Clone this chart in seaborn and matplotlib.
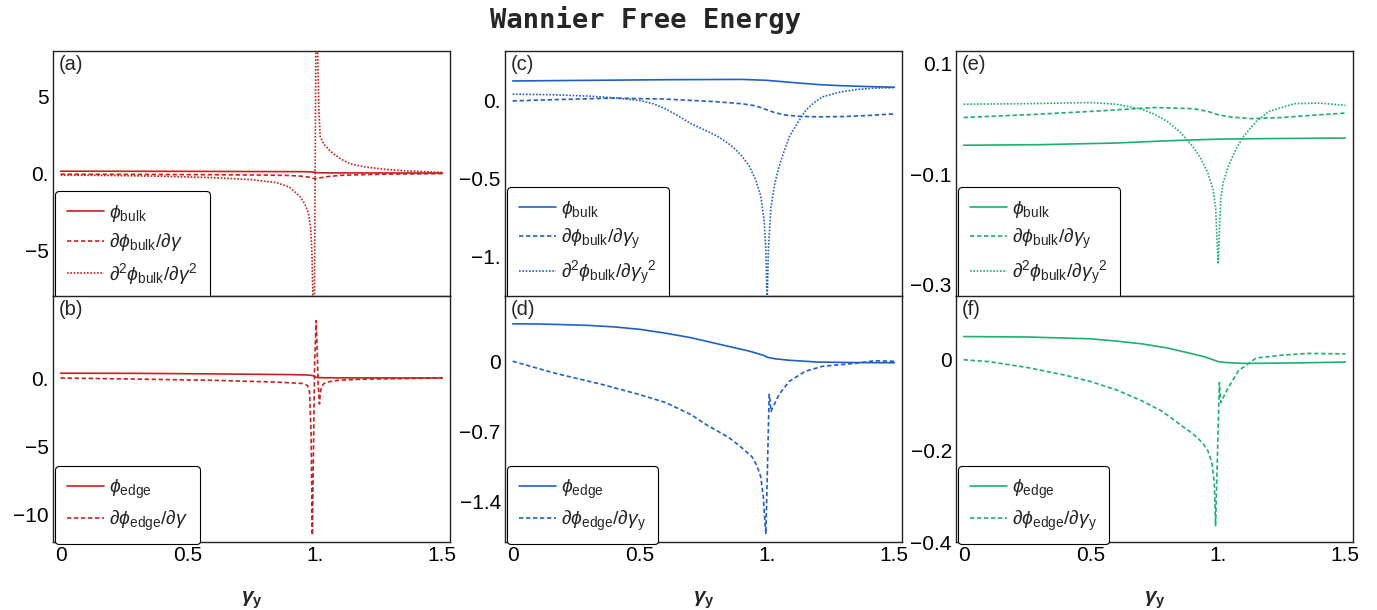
import matplotlib
matplotlib.use("Agg")
import matplotlib.pyplot as plt
import seaborn as sns

# ---- data ----
# (a) bulk, red
a_bulk_x = [0, 0.5, 0.95, 0.99, 1.01, 1.05, 1.5]
a_bulk_y = [0.15, 0.14, 0.12, 0.1, 0.05, 0.04, 0.03]
a_d1_x = [0, 0.3, 0.6, 0.8, 0.9, 0.95, 0.98, 1.0, 1.02, 1.05, 1.1, 1.2, 1.35, 1.5]
a_d1_y = [-0.05, -0.06, -0.08, -0.1, -0.13, -0.18, -0.25, -0.35, -0.28, -0.2, -0.12, -0.07, -0.03, -0.01]
a_d2_x = [0, 0.2, 0.4, 0.6, 0.75, 0.85, 0.9, 0.94, 0.96, 0.974, 0.982, 0.987, 0.992, 0.996,
          1.004, 1.009, 1.015, 1.02, 1.035, 1.06, 1.1, 1.14, 1.2, 1.27, 1.35, 1.5]
a_d2_y = [-0.1, -0.13, -0.18, -0.27, -0.4, -0.6, -0.9, -1.5, -2.0, -2.6, -3.5, -5.0, -8.5, -12,
          12, 8.5, 4.0, 2.4, 1.9, 1.45, 0.95, 0.62, 0.42, 0.28, 0.18, 0.07]

# (b) edge, red
b_edge_x = [0, 0.3, 0.6, 0.9, 0.97, 0.99, 1.0, 1.01, 1.03, 1.1, 1.5]
b_edge_y = [0.35, 0.34, 0.3, 0.25, 0.22, 0.18, 0.08, 0.03, 0.02, 0.01, 0.0]
b_d1_x = [0, 0.3, 0.6, 0.85, 0.95, 0.97, 0.978, 0.984, 0.989, 0.993, 0.998, 1.004, 1.008,
          1.012, 1.017, 1.021, 1.026, 1.035, 1.06, 1.1, 1.2, 1.35, 1.5]
b_d1_y = [0.0, -0.08, -0.17, -0.3, -0.4, -0.55, -1.0, -4.0, -11.5, -6.0, 1.0, 4.2, 2.0,
          -0.5, -1.9, -1.0, -0.6, -0.4, -0.25, -0.15, -0.08, -0.04, 0.0]

# (c) bulk, blue
c_bulk_x = [0, 0.3, 0.6, 0.9, 1.0, 1.1, 1.2, 1.3, 1.4, 1.5]
c_bulk_y = [0.128, 0.132, 0.136, 0.138, 0.132, 0.118, 0.105, 0.097, 0.092, 0.088]
c_d1_x = [0, 0.2, 0.4, 0.6, 0.8, 0.9, 0.95, 0.98, 1.0, 1.03, 1.07, 1.12, 1.2, 1.3, 1.4, 1.5]
c_d1_y = [0.0, 0.01, 0.018, 0.012, -0.005, -0.018, -0.03, -0.045, -0.058, -0.075, -0.09,
          -0.098, -0.102, -0.1, -0.093, -0.083]
c_d2_x = [0, 0.15, 0.3, 0.4, 0.5, 0.55, 0.6, 0.65, 0.7, 0.75, 0.8, 0.825, 0.85, 0.875, 0.9,
          0.93, 0.956, 0.975, 0.988, 0.995, 1.0, 1.005, 1.015, 1.03, 1.047, 1.065, 1.087,
          1.12, 1.152, 1.185, 1.218, 1.28, 1.35, 1.42, 1.5]
c_d2_y = [0.043, 0.04, 0.031, 0.02, 0.003, -0.017, -0.05, -0.095, -0.145, -0.183, -0.222,
          -0.248, -0.275, -0.31, -0.352, -0.418, -0.51, -0.61, -0.76, -0.95, -1.3, -0.95,
          -0.68, -0.53, -0.42, -0.33, -0.23, -0.14, -0.06, -0.01, 0.026, 0.055, 0.073,
          0.082, 0.085]

# (d) edge, blue
d_edge_x = [0, 0.1, 0.2, 0.3, 0.4, 0.5, 0.6, 0.7, 0.76, 0.82, 0.88, 0.92, 0.955, 0.99, 1.0,
            1.03, 1.087, 1.2, 1.35, 1.5]
d_edge_y = [0.373, 0.371, 0.365, 0.357, 0.342, 0.318, 0.28, 0.235, 0.2, 0.165, 0.13, 0.107,
            0.083, 0.055, 0.04, 0.025, 0.01, -0.008, -0.013, -0.015]
d_d1_x = [0, 0.168, 0.35, 0.496, 0.6, 0.7, 0.76, 0.85, 0.9, 0.94, 0.96, 0.975, 0.985, 0.99,
          0.995, 1.0, 1.008, 1.012, 1.015, 1.03, 1.047, 1.087, 1.15, 1.218, 1.35, 1.42, 1.5]
d_d1_y = [0.0, -0.12, -0.23, -0.33, -0.41, -0.53, -0.63, -0.76, -0.86, -0.95, -1.04, -1.15,
          -1.35, -1.55, -1.72, -1.2, -0.33, -0.4, -0.5, -0.42, -0.33, -0.2, -0.1, -0.05,
          -0.02, 0.005, 0.0]

# (e) bulk, green
e_bulk_x = [0, 0.3, 0.6, 0.8, 1.0, 1.2, 1.5]
e_bulk_y = [-0.048, -0.047, -0.044, -0.04, -0.037, -0.036, -0.035]
e_d1_x = [0, 0.25, 0.5, 0.75, 0.9, 0.96, 1.0, 1.05, 1.13, 1.25, 1.4, 1.5]
e_d1_y = [0.002, 0.007, 0.013, 0.02, 0.018, 0.013, 0.007, 0.003, 0.0, 0.002, 0.007, 0.01]
e_d2_x = [0, 0.25, 0.5, 0.6, 0.7, 0.75, 0.8, 0.85, 0.9, 0.93, 0.96, 0.98, 0.99, 1.0, 1.01,
          1.02, 1.04, 1.07, 1.1, 1.15, 1.2, 1.3, 1.4, 1.5]
e_d2_y = [0.026, 0.027, 0.029, 0.026, 0.017, 0.008, -0.005, -0.024, -0.05, -0.07, -0.098,
          -0.128, -0.16, -0.262, -0.146, -0.115, -0.086, -0.055, -0.032, -0.005, 0.013,
          0.027, 0.028, 0.024]

# (f) edge, green
f_edge_x = [0, 0.25, 0.5, 0.6, 0.7, 0.8, 0.9, 0.95, 1.0, 1.03, 1.1, 1.3, 1.5]
f_edge_y = [0.051, 0.05, 0.046, 0.041, 0.035, 0.026, 0.013, 0.006, -0.004, -0.006, -0.008,
            -0.007, -0.005]
f_d1_x = [0, 0.1, 0.25, 0.4, 0.5, 0.6, 0.7, 0.78, 0.85, 0.9, 0.94, 0.96, 0.975, 0.985, 0.99,
          1.005, 1.01, 1.04, 1.08, 1.15, 1.25, 1.35, 1.5]
f_d1_y = [0.0, -0.004, -0.017, -0.034, -0.048, -0.066, -0.09, -0.113, -0.142, -0.162, -0.183,
          -0.2, -0.225, -0.27, -0.364, -0.05, -0.094, -0.061, -0.024, 0.004, 0.01, 0.014, 0.013]

x_ticks = [0, 0.5, 1.0, 1.5]
x_ticklabels = ["0", "0.5", "1.", "1.5"]

# y axis setup per panel: limits, ticks, labels
ylims = {"a": (-8, 8), "b": (-12, 6), "c": (-1.25, 0.32),
         "d": (-1.8, 0.65), "e": (-0.32, 0.122), "f": (-0.4, 0.14)}
yticks = {"a": [5, 0, -5], "b": [0, -5, -10], "c": [0, -0.5, -1],
          "d": [0, -0.7, -1.4], "e": [0.1, -0.1, -0.3], "f": [0, -0.2, -0.4]}
yticklabels = {"a": ["5", "0.", "\u22125"], "b": ["0.", "\u22125", "\u221210"],
               "c": ["0.", "\u22120.5", "\u22121."], "d": ["0", "\u22120.7", "\u22121.4"],
               "e": ["0.1", "\u22120.1", "\u22120.3"], "f": ["0", "\u22120.2", "\u22120.4"]}

red = "#C8201C"
blue = "#1F60C8"
green = "#1DB070"

solid = "-"
dashed = (0, (2.6, 1.6))
dotted = (0, (1.0, 1.0))

# labels
lab_bulk = r"$\phi_{\rm bulk}$"
lab_edge = r"$\phi_{\rm edge}$"
lab_a1 = r"$\partial\phi_{\rm bulk}/\partial\gamma$"
lab_a2 = r"$\partial^2\phi_{\rm bulk}/\partial\gamma^2$"
lab_b1 = r"$\partial\phi_{\rm edge}/\partial\gamma$"
lab_y1 = r"$\partial\phi_{\rm bulk}/\partial\gamma_{\rm y}$"
lab_y2 = r"$\partial^2\phi_{\rm bulk}/\partial{\gamma_{\rm y}}^2$"
lab_ey1 = r"$\partial\phi_{\rm edge}/\partial\gamma_{\rm y}$"

panels = {
    "a": [(a_bulk_x, a_bulk_y, red, solid, lab_bulk),
          (a_d1_x, a_d1_y, red, dashed, lab_a1),
          (a_d2_x, a_d2_y, red, dotted, lab_a2)],
    "b": [(b_edge_x, b_edge_y, red, solid, lab_edge),
          (b_d1_x, b_d1_y, red, dashed, lab_b1)],
    "c": [(c_bulk_x, c_bulk_y, blue, solid, lab_bulk),
          (c_d1_x, c_d1_y, blue, dashed, lab_y1),
          (c_d2_x, c_d2_y, blue, dotted, lab_y2)],
    "d": [(d_edge_x, d_edge_y, blue, solid, lab_edge),
          (d_d1_x, d_d1_y, blue, dashed, lab_ey1)],
    "e": [(e_bulk_x, e_bulk_y, green, solid, lab_bulk),
          (e_d1_x, e_d1_y, green, dashed, lab_y1),
          (e_d2_x, e_d2_y, green, dotted, lab_y2)],
    "f": [(f_edge_x, f_edge_y, green, solid, lab_edge),
          (f_d1_x, f_d1_y, green, dashed, lab_ey1)],
}

sns.set_style("white")
plt.rcParams["font.family"] = ["Liberation Sans", "DejaVu Sans"]
plt.rcParams["mathtext.fontset"] = "custom"
plt.rcParams["mathtext.rm"] = "Liberation Sans"
plt.rcParams["mathtext.it"] = "Liberation Sans:italic"
plt.rcParams["mathtext.bf"] = "Liberation Sans:bold"
plt.rcParams["mathtext.bfit"] = "Liberation Sans:italic:bold"

W, H = 1377, 610
fig = plt.figure(figsize=(W / 100, H / 100), dpi=100)

col_left = [53, 505, 956]
col_w = 397
row_top = [51, 296]
row_h = [245, 246]

order = [["a", "c", "e"], ["b", "d", "f"]]

for r in range(2):
    for c in range(3):
        key = order[r][c]
        left = col_left[c] / W
        bottom = 1 - (row_top[r] + row_h[r]) / H
        ax = fig.add_axes([left, bottom, col_w / W, row_h[r] / H])
        for xs, ys, col, ls, lab in panels[key]:
            sns.lineplot(x=xs, y=ys, ax=ax, color=col, linestyle=ls, linewidth=1.2,
                         estimator=None, sort=False, label=lab)
        ax.set_xlim(-0.03, 1.53)
        ax.set_ylim(*ylims[key])
        ax.set_yticks(yticks[key])
        ax.set_yticklabels(yticklabels[key])
        ax.set_xticks(x_ticks)
        if r == 1:
            ax.set_xticklabels(x_ticklabels)
        else:
            ax.set_xticklabels([])
        ax.tick_params(direction="in", length=4, width=0.8, labelsize=15, pad=3,
                       colors="black")
        for sp in ax.spines.values():
            sp.set_color("#222222")
            sp.set_linewidth(1.0)
        ax.text(0.015, 0.985, "(%s)" % key, transform=ax.transAxes, ha="left", va="top",
                fontsize=14.5)
        leg = ax.legend(loc="lower left", bbox_to_anchor=(0.005, -0.01), borderaxespad=0,
                        fontsize=14, frameon=True, fancybox=True, handlelength=1.9,
                        labelspacing=0.38, borderpad=0.6, handletextpad=0.3)
        leg.get_frame().set_edgecolor("black")
        leg.get_frame().set_linewidth(0.8)
        leg.get_frame().set_alpha(1)
        if r == 1:
            fig.text((col_left[c] + col_w / 2) / W, 1 - 600 / H,
                     r"$\boldsymbol{\gamma}_{\mathbf{y}}$", ha="center", va="center",
                     fontsize=15)

fig.text(646 / W, 1 - 20 / H, "Wannier Free Energy", ha="center", va="center",
         fontsize=19.5, fontweight="bold", family="DejaVu Sans Mono")

fig.savefig("out.png", dpi=100)
plt.close(fig)
